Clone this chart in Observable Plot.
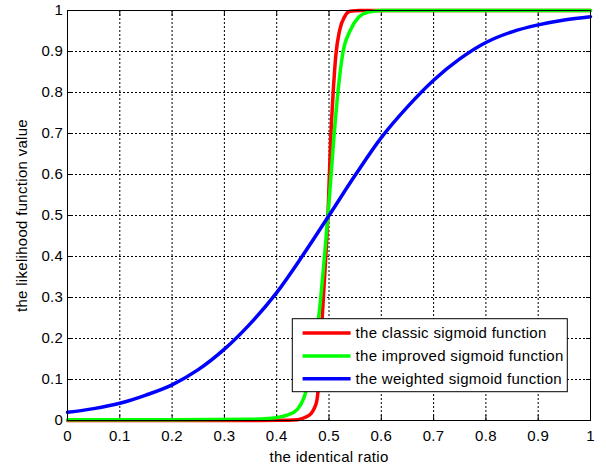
<!DOCTYPE html>
<html><head><meta charset="utf-8">
<script src="https://cdn.jsdelivr.net/npm/d3@7"></script>
<script src="https://cdn.jsdelivr.net/npm/@observablehq/plot@0.6"></script>
<style>body{margin:0;background:#fff} #chart{width:606px;height:466px}</style>
</head><body><div id="chart"></div>
<script>
const seriesNames = ["the classic sigmoid function", "the improved sigmoid function", "the weighted sigmoid function"];
const seriesColors = ["#ff0000", "#00ff00", "#0000ff"];

const redX = [0, 0.3, 0.4, 0.44, 0.455, 0.465, 0.472, 0.477, 0.482, 0.487, 0.493, 0.498, 0.503, 0.508, 0.513, 0.52, 0.53, 0.54, 0.56, 0.7, 1];
const redY = [0, 0, 0.0005, 0.002, 0.008, 0.016, 0.03, 0.05, 0.12, 0.25, 0.38, 0.5, 0.68, 0.8, 0.89, 0.95, 0.985, 0.998, 1, 1, 1];

const greenX = [0, 0.2, 0.35, 0.4, 0.42, 0.44, 0.452, 0.462, 0.472, 0.481, 0.49, 0.498, 0.504, 0.51, 0.517, 0.527, 0.54, 0.557, 0.575, 0.6, 0.8, 1];
const greenY = [0.002, 0.002, 0.003, 0.007, 0.013, 0.028, 0.055, 0.1, 0.18, 0.26, 0.38, 0.5, 0.6, 0.7, 0.8, 0.9, 0.95, 0.984, 0.996, 1, 1, 1];

const blueX = [0, 0.05, 0.1, 0.15, 0.2, 0.25, 0.3, 0.35, 0.4, 0.45, 0.5, 0.55, 0.6, 0.65, 0.7, 0.75, 0.8, 0.85, 0.9, 0.95, 1];
const blueY = [0.02, 0.029, 0.042, 0.062, 0.087, 0.124, 0.174, 0.237, 0.312, 0.403, 0.5, 0.598, 0.69, 0.765, 0.83, 0.882, 0.922, 0.948, 0.965, 0.977, 0.985];

const xTicks = [0, 0.1, 0.2, 0.3, 0.4, 0.5, 0.6, 0.7, 0.8, 0.9, 1];
const xTickLabels = ["0", "0.1", "0.2", "0.3", "0.4", "0.5", "0.6", "0.7", "0.8", "0.9", "1"];
const yTicks = [0, 0.1, 0.2, 0.3, 0.4, 0.5, 0.6, 0.7, 0.8, 0.9, 1];
const yTickLabels = ["0", "0.1", "0.2", "0.3", "0.4", "0.5", "0.6", "0.7", "0.8", "0.9", "1"];

const xLabel = "the identical ratio";
const yLabel = "the likelihood function value";

const allX = [redX, greenX, blueX];
const allY = [redY, greenY, blueY];
const curves = ["monotone-x", "monotone-x", "catmull-rom"];
const seriesRows = seriesNames.map((name, s) => allX[s].map((x, i) => ({series: name, x, y: allY[s][i]})));

const font = "'Liberation Sans', Arial, Helvetica, sans-serif";
const gridStyle = {stroke: "#000", strokeOpacity: 1, strokeDasharray: "2,2", strokeWidth: 1};

const chart = Plot.plot({
  width: 606, height: 466,
  marginLeft: 67, marginRight: 16, marginTop: 10, marginBottom: 46,
  style: {fontFamily: font, fontSize: "15px", background: "#fff", color: "#000", letterSpacing: "0.3px"},
  x: {domain: [0, 1]},
  y: {domain: [0, 1]},
  color: {domain: seriesNames, range: seriesColors},
  marks: [
    Plot.gridX(xTicks, gridStyle),
    Plot.gridY(yTicks, gridStyle),
    Plot.axisX(xTicks, {anchor: "bottom", tickSize: -5, tickPadding: 14.5, tickFormat: d => xTickLabels[xTicks.indexOf(d)],
      label: xLabel, labelAnchor: "center", labelArrow: "none", labelOffset: 41}),
    Plot.axisX(xTicks, {anchor: "top", tickSize: -5, tickFormat: () => "", label: null}),
    Plot.axisY(yTicks, {anchor: "left", tickSize: -5, tickPadding: 9.3, tickFormat: d => yTickLabels[yTicks.indexOf(d)],
      label: yLabel, labelAnchor: "center", labelArrow: "none", labelOffset: 51}),
    Plot.axisY(yTicks, {anchor: "right", tickSize: -5, tickFormat: () => "", label: null}),
    ...seriesRows.map((data, s) => Plot.line(data, {x: "x", y: "y", stroke: "series", strokeWidth: 3.5, curve: curves[s]})),
    Plot.frame({stroke: "#000", strokeWidth: 1})
  ]
});
document.getElementById("chart").appendChild(chart);

// Legend box (inside the plot frame, lower right)
const svg = d3.select(chart);
const xs = chart.scale("x"), ys = chart.scale("y");
const frameRight = xs.range[1], frameBottom = ys.range[0];
const boxW = 275, boxH = 73;
const bx = frameRight - 22.7 - boxW, by = frameBottom - 28.3 - boxH;
const g = svg.append("g").attr("font-family", font).attr("font-size", 15)
  .attr("letter-spacing", "0.3px").attr("text-anchor", "start");
g.append("rect").attr("x", bx).attr("y", by).attr("width", boxW).attr("height", boxH)
  .attr("fill", "#fff").attr("stroke", "#000").attr("stroke-width", 1);
seriesNames.forEach((name, i) => {
  const cy = by + 14.4 + i * 22.8;
  g.append("line").attr("x1", bx + 10.3).attr("x2", bx + 58.3).attr("y1", cy).attr("y2", cy)
    .attr("stroke", seriesColors[i]).attr("stroke-width", 3.5);
  g.append("text").attr("x", bx + 63.3).attr("y", cy).attr("dy", "0.35em")
    .attr("fill", "#000").attr("text-anchor", "start").text(name);
});
</script>
</body></html>
